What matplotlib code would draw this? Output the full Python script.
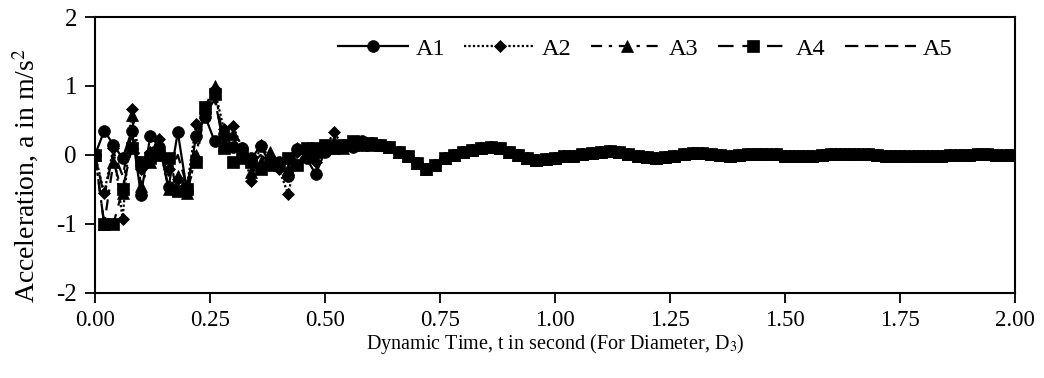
import numpy as np
import matplotlib
matplotlib.use("Agg")
import matplotlib.pyplot as plt

plt.rcParams['font.family'] = ['Liberation Serif', 'DejaVu Serif']
plt.rcParams['mathtext.fontset'] = 'stix'
plt.rcParams['axes.unicode_minus'] = False

DT = 0.02  # sampling step, s

# Early response (t = 0.00 ... 0.60 s), one array per accelerometer
a1_early = [0, 0.35, 0.15, -0.05, 0.35, -0.58, 0.27, 0.12, -0.47, 0.33,
            -0.52, 0.28, 0.55, 0.2, 0.3, 0.12, 0.1, -0.05, 0.13, -0.12,
            -0.1, -0.3, 0.08, -0.05, -0.28, 0.05, 0.1, 0.15, 0.12, 0.2, 0.17]
a2_early = [0, -0.55, 0.1, -0.93, 0.67, -0.2, 0.05, 0.23, -0.2, -0.35,
            -0.45, 0.45, 0.6, 0.95, 0.38, 0.42, 0.1, -0.38, 0.15, -0.05,
            -0.2, -0.57, 0.05, 0.1, -0.1, 0.1, 0.33, 0.12, 0.18, 0.15, 0.18]
a3_early = [0, -1.0, -0.1, -0.55, 0.58, -0.45, -0.1, 0.15, -0.5, -0.3,
            -0.55, 0.0, 0.7, 1.0, 0.15, 0.3, -0.05, -0.25, -0.1, 0.05,
            -0.15, -0.2, 0.1, 0.0, 0.05, 0.15, 0.2, 0.1, 0.15, 0.18, 0.15]
a4_early = [0, -1.0, -1.0, -0.5, 0.1, -0.1, -0.05, 0.0, -0.05, -0.52,
            -0.5, -0.1, 0.7, 0.88, 0.1, -0.1, 0.0, -0.1, -0.2, -0.15,
            -0.15, -0.05, -0.15, 0.1, 0.1, 0.15, 0.1, 0.15, 0.2, 0.15, 0.18]
a5_early = [0, -0.6, 0.05, -0.3, 0.3, -0.3, 0.0, 0.1, -0.3, 0.0,
            -0.45, 0.2, 0.6, 0.8, 0.2, 0.25, 0.05, -0.15, 0.0, -0.1,
            -0.1, -0.15, 0.05, 0.05, 0.0, 0.1, 0.15, 0.12, 0.15, 0.18, 0.16]

# Decaying response common to all accelerometers (t = 0.62 ... 2.00 s)
tail = [0.15, 0.12, 0.05, -0.02, -0.12, -0.2, -0.15, -0.05, 0.0, 0.04,
        0.07, 0.1, 0.12, 0.1, 0.05, 0.0, -0.04, -0.07, -0.06, -0.04,
        -0.02, -0.01, 0.01, 0.03, 0.05, 0.06, 0.05, 0.02, -0.01, -0.03,
        -0.04, -0.03, -0.01, 0.01, 0.03, 0.03, 0.02, 0.0, -0.01, 0.0,
        0.01, 0.02, 0.02, 0.01, -0.01, -0.02, -0.02, -0.01, 0.0, 0.01,
        0.02, 0.02, 0.02, 0.01, 0.0, -0.01, -0.01, -0.01, -0.02, -0.02,
        -0.02, -0.01, 0.0, 0.0, 0.0, 0.01, 0.01, 0.0, 0.0, 0.0]

labels = ["A1", "A2", "A3", "A4", "A5"]
markers = ["o", "D", "^", "s", "None"]
marker_sizes = [8.5, 6.5, 8.5, 8, 0]
linestyles = ["-", (0, (1, 1)), (0, (5, 3, 1.5, 3)), (0, (7, 4)), (0, (6, 3))]
series = [a1_early, a2_early, a3_early, a4_early, a5_early]

fig = plt.figure(figsize=(10.44, 3.78), dpi=100)
ax = fig.add_axes([0.091, 0.225, 0.881, 0.730])

for lab, early, mk, ms, ls in zip(labels, series, markers, marker_sizes, linestyles):
    y = np.array(early + tail, dtype=float)
    t = np.round(np.arange(len(y)) * DT, 2)
    ax.plot(t, y, color="black", linestyle=ls, linewidth=1.6,
            marker=mk, markersize=ms, markeredgewidth=0.5, label=lab)

ax.set_xlim(0, 2.0)
ax.set_ylim(-2, 2)
xt = np.arange(0, 2.01, 0.25)
ax.set_xticks(xt)
ax.set_xticklabels([f"{v:.2f}" for v in xt])
ax.set_yticks([-2, -1, 0, 1, 2])
ax.tick_params(direction="out", length=7, width=1.3, colors="black")
ax.tick_params(axis="x", labelsize=16.5, pad=5)
ax.tick_params(axis="y", labelsize=18, pad=6)
for sp in ax.spines.values():
    sp.set_linewidth(1.5)

ax.set_xlabel("Dynamic Time, t in second (For Diameter, D$_3$)", fontsize=14.5, labelpad=1)
ax.set_ylabel("Acceleration, a in m/s$^2$", fontsize=20)
ax.yaxis.set_label_coords(-0.059, 0.425)

ax.legend(loc="center", bbox_to_anchor=(0.598, 0.885), ncol=5, frameon=False,
          fontsize=17.5, handlelength=2.9, numpoints=1, columnspacing=0.8,
          handletextpad=0.3)

fig.savefig("out.png", dpi=100)
